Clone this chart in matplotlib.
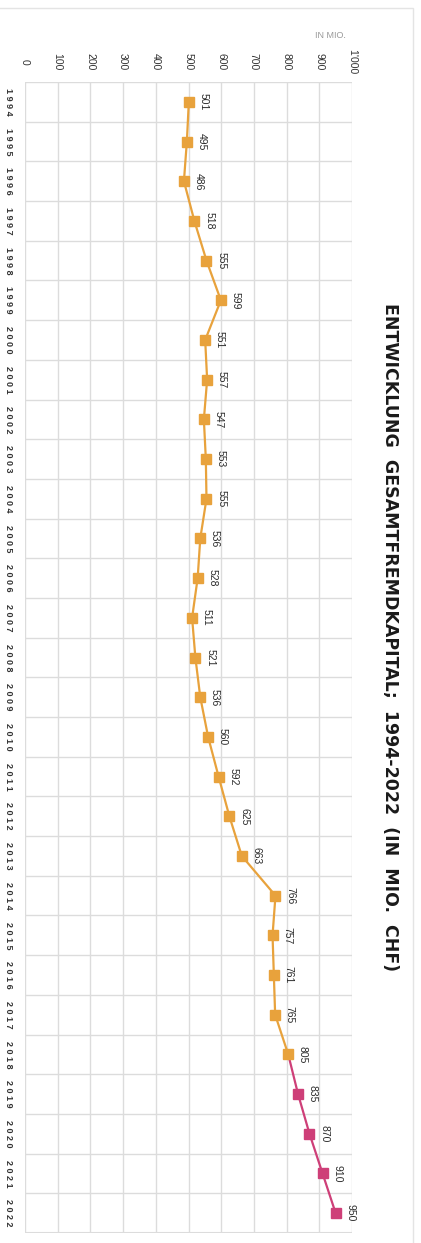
import matplotlib.pyplot as plt
from matplotlib.patches import Rectangle
import matplotlib.transforms as mtransforms

plt.rcParams['font.family'] = ['Liberation Sans', 'DejaVu Sans']

# Gesamtfremdkapital pro Jahr (in Mio. CHF)
years = list(range(1994, 2023))
values = [501, 495, 486, 518, 555, 599, 551, 557, 547, 553, 555, 536, 528, 511,
          521, 536, 560, 592, 625, 663, 766, 757, 761, 765, 805, 835, 870, 910, 950]
value_ticks = [0, 100, 200, 300, 400, 500, 600, 700, 800, 900, 1000]
value_tick_labels = ["0", "100", "200", "300", "400", "500", "600", "700", "800", "900", "1'000"]
forecast_from = 2018

ORANGE = "#E8A23C"
PINK = "#CE3F78"
GRID = "#DCDCDC"

W, H = 421, 1243
fig = plt.figure(figsize=(W / 100, H / 100), dpi=100)

# Rahmen um die Grafik
fig.patches.append(Rectangle((-0.01, -0.01), 413 / W + 0.01, 1 - 8 / H + 0.01,
                             transform=fig.transFigure, fill=False,
                             edgecolor="#E4E4E4", lw=1.0))

# Diagramm liegt gedreht: Jahre von oben nach unten, Werte von links nach rechts
ax = fig.add_axes([25 / W, 10 / H, 327 / W, (1233 - 82) / H])
n = len(years)
pos = list(range(n))

split = years.index(forecast_from)
ax.plot(values[:split + 1], pos[:split + 1], color=ORANGE, lw=1.6, zorder=3)
ax.plot(values[split:], pos[split:], color=PINK, lw=1.6, zorder=3)
ax.plot(values[:split + 1], pos[:split + 1], ls="none", marker="s", ms=6.5,
        color=ORANGE, zorder=4)
ax.plot(values[split + 1:], pos[split + 1:], ls="none", marker="s", ms=6.5,
        color=PINK, zorder=4)

for v, p in zip(values, pos):
    ax.annotate(f"{v}", (v, p), xytext=(7, 0), textcoords="offset points",
                ha="left", va="center", rotation=-90, fontsize=7.5, color="#2a2a2a")

ax.set_xlim(0, 1000)
ax.set_ylim(n - 0.5, -0.5)
ax.set_xticks(value_ticks)
ax.set_yticks([p - 0.5 for p in pos])
ax.tick_params(length=0, labelbottom=False, labelleft=False)
ax.grid(True, color=GRID, lw=1.0)
ax.set_axisbelow(True)
for s in ax.spines.values():
    s.set_visible(False)
ax.axhline(n - 0.5, color=GRID, lw=1.5)

# Werteachse oben, gedreht
trans_top = mtransforms.blended_transform_factory(ax.transData, fig.transFigure)
for t, lab in zip(value_ticks, value_tick_labels):
    ax.text(t, 1 - 62 / H, lab, transform=trans_top, rotation=-90,
            ha="center", va="center", fontsize=7.5, color="#333333")

# Jahre links, gedreht
trans_left = mtransforms.blended_transform_factory(fig.transFigure, ax.transData)
for y, p in zip(years, pos):
    ax.text(8 / W, p, " ".join(str(y)), transform=trans_left, rotation=-90,
            ha="center", va="center", fontsize=6.5, color="#333333",
            fontweight="bold")

fig.text(330 / W, 1 - 36 / H, "IN MIO.", ha="center", va="center",
         fontsize=6.5, color="#999999")

fig.text(390 / W, 1 - 637 / H,
         "ENTWICKLUNG  GESAMTFREMDKAPITAL;  1994-2022  (IN  MIO.  CHF)",
         rotation=-90, ha="center", va="center", fontsize=12.5,
         fontweight="bold", color="#1a1a1a", family=["DejaVu Sans"])

fig.savefig("out.png", dpi=100)
